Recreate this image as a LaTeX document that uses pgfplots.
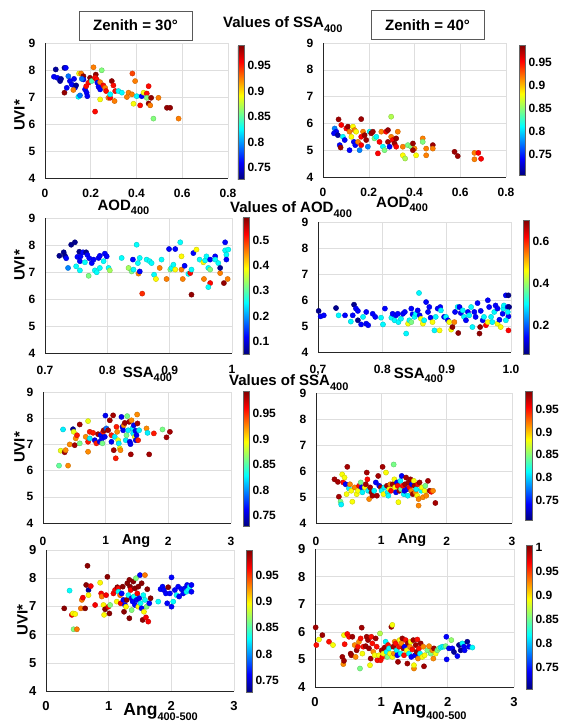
\documentclass[border=0pt]{standalone}
\usepackage{fontspec}
\setmainfont{Liberation Sans}
\usepackage{pgfplots}
\pgfplotsset{compat=1.18}

\newcommand{\fs}[1]{\bfseries\fontsize{#1}{#1}\selectfont}
\newcommand{\sub}[2][3.5pt]{\raisebox{-#1}{\fontsize{11}{11}\selectfont #2}}

\pgfplotsset{
  panel/.style={
    scale only axis,
    axis lines=left,
    axis line style={-, draw=black!85, line width=0.6pt},
    grid=major,
    grid style={draw=black!13, line width=0.5pt},
    tick style={draw=none},
    ymin=4, ymax=9, ytick={4,5,6,7,8,9},
    /pgf/number format/assume math mode=true,
    scaled ticks=false,
    ticklabel style={font=\fs{12}},
    yticklabel style={xshift=-4pt},
    label style={font=\fs{15}, inner sep=0pt},
    colormap/jet,
    colorbar,
    colorbar shift/.style={},
    colorbar style={
      at={(parent axis.north east)}, anchor=north west,
      width=6pt, axis lines=box, grid=none, xlabel={}, ylabel={},
      axis line style={draw=black!60, line width=0.4pt},
      tick style={draw=none},
      yticklabel style={font=\fs{12}},
      /pgf/number format/assume math mode=true,
      scaled ticks=false,
    },
  },
  dots/.style={scatter, only marks, mark=*, mark size=2.6pt, scatter src=explicit},
}

\begin{document}
\begin{tikzpicture}
\useasboundingbox (0,0) rectangle (562pt,-725pt);

% headers
\node[draw=black!65, line width=0.6pt, fill=white, minimum width=113pt, minimum height=29pt, font=\fs{15}]
  at (135.5pt,-25.5pt) {Zenith = 30°};
\node[draw=black!65, line width=0.6pt, fill=white, minimum width=113pt, minimum height=29pt, font=\fs{15}]
  at (427.5pt,-25pt) {Zenith = 40°};
\node[anchor=base west, inner sep=0pt, font=\fs{15}] at (223pt,-28pt) {Values of SSA\sub[5pt]{400}};
\node[anchor=base west, inner sep=0pt, font=\fs{15}] at (230pt,-212pt) {Values of AOD\sub[5pt]{400}};
\node[anchor=base west, inner sep=0pt, font=\fs{15}] at (229pt,-385pt) {Values of SSA\sub[5pt]{400}};

% ---- row 1, zenith 30, colour = SSA400
\begin{axis}[panel, at={(45pt,-43pt)}, anchor=north west, width=183pt, height=135pt,
  xmin=0, xmax=0.8, xtick={0,0.2,0.4,0.6,0.8},
  xticklabel style={yshift=-5pt},
  point meta min=0.728, point meta max=0.99,
  colorbar style={xshift=10pt, yshift=-2pt, height=134pt, ytick={0.75,0.8,0.85,0.9,0.95}},
  xlabel={AOD\sub{400}}, xlabel style={at={(axis description cs:0.429,0)}, anchor=north, yshift=-22pt},
  ylabel={UVI*}, ylabel style={at={(axis description cs:-0.109,0.463)}, anchor=south},
]
\addplot[dots] table[meta=c] {
x y c
0.047 8.02 0.735
0.039 7.75 0.76
0.054 7.71 0.76
0.066 7.59 0.735
0.070 7.67 0.735
0.085 8.08 0.735
0.091 8.08 0.76
0.085 7.16 0.985
0.102 7.77 0.79
0.109 7.59 0.76
0.095 7.34 0.76
0.117 7.46 0.76
0.127 7.67 0.76
0.131 7.34 0.76
0.136 7.43 0.735
0.124 7.26 0.925
0.146 7.01 0.825
0.153 7.06 0.79
0.149 7.87 0.89
0.158 7.87 0.925
0.168 7.77 0.985
0.168 7.65 0.76
0.161 7.67 0.79
0.175 7.28 0.76
0.182 7.16 0.76
0.185 7.03 0.76
0.190 7.53 0.955
0.180 7.40 0.955
0.197 7.71 0.985
0.204 7.59 0.845
0.212 8.10 0.925
0.222 7.83 0.985
0.219 7.71 0.955
0.226 7.65 0.955
0.229 7.53 0.76
0.234 7.38 0.76
0.241 7.28 0.76
0.241 6.91 0.89
0.248 7.99 0.86
0.219 6.46 0.955
0.241 7.55 0.925
0.255 7.43 0.955
0.263 7.34 0.925
0.267 7.22 0.955
0.277 6.97 0.925
0.285 6.97 0.955
0.292 7.59 0.985
0.299 7.43 0.955
0.307 7.22 0.955
0.304 6.85 0.925
0.285 7.10 0.825
0.321 7.22 0.825
0.336 7.16 0.825
0.358 7.00 0.925
0.365 7.16 0.925
0.382 7.87 0.94
0.394 7.59 0.925
0.380 7.10 0.925
0.387 6.75 0.89
0.401 7.03 0.825
0.416 6.69 0.955
0.423 7.03 0.76
0.431 7.16 0.89
0.445 7.13 0.955
0.453 7.40 0.955
0.445 6.97 0.86
0.464 6.97 0.985
0.453 6.76 0.985
0.460 6.69 0.925
0.496 6.97 0.925
0.474 6.20 0.86
0.533 6.60 0.985
0.547 6.60 0.985
0.584 6.20 0.925
};
\end{axis}

% ---- row 1, zenith 40
\begin{axis}[panel, at={(323pt,-43pt)}, anchor=north west, width=183pt, height=134pt,
  xmin=0, xmax=0.8, xtick={0,0.2,0.4,0.6,0.8},
  xticklabel style={yshift=-5pt},
  point meta min=0.705, point meta max=0.988,
  colorbar style={xshift=13pt, yshift=-2pt, height=130pt, ytick={0.75,0.8,0.85,0.9,0.95}},
  xlabel={AOD\sub{400}}, xlabel style={at={(axis description cs:0.432,0)}, anchor=north, yshift=-20pt},
]
\addplot[dots] table[meta=c] {
x y c
0.051 5.81 0.776
0.058 5.69 0.74
0.048 5.63 0.74
0.065 5.56 0.715
0.068 6.15 0.98
0.080 5.94 0.953
0.073 5.19 0.74
0.077 5.10 0.98
0.087 5.50 0.81
0.095 5.38 0.74
0.102 5.81 0.953
0.109 5.88 0.98
0.116 5.69 0.917
0.124 5.50 0.882
0.116 5.00 0.74
0.131 5.88 0.882
0.138 5.75 0.917
0.145 5.69 0.882
0.135 5.31 0.74
0.141 5.19 0.74
0.153 5.31 0.917
0.160 5.00 0.776
0.167 6.16 0.98
0.167 5.50 0.953
0.175 5.69 0.917
0.167 5.19 0.953
0.182 5.56 0.98
0.189 5.38 0.98
0.196 5.13 0.776
0.204 5.69 0.81
0.211 5.63 0.98
0.218 5.69 0.98
0.225 5.44 0.846
0.233 5.50 0.81
0.240 4.88 0.953
0.247 5.31 0.953
0.255 5.69 0.917
0.262 5.13 0.81
0.269 5.00 0.846
0.276 5.69 0.953
0.284 5.75 0.98
0.284 5.31 0.98
0.291 5.13 0.74
0.298 6.25 0.86
0.298 5.50 0.917
0.305 5.38 0.953
0.313 5.25 0.98
0.320 5.44 0.98
0.327 5.69 0.917
0.320 5.13 0.953
0.349 5.13 0.917
0.349 4.81 0.882
0.359 4.69 0.86
0.371 5.19 0.846
0.385 5.13 0.846
0.393 5.25 0.98
0.400 5.06 0.917
0.393 5.00 0.98
0.407 4.81 0.882
0.436 5.44 0.917
0.436 5.31 0.846
0.451 5.06 0.917
0.451 4.81 0.917
0.480 5.19 0.98
0.480 5.06 0.917
0.575 4.94 0.98
0.589 4.78 0.98
0.662 4.90 0.917
0.662 4.66 0.917
0.679 4.90 0.953
0.691 4.68 0.953
};
\end{axis}

% ---- row 2, zenith 30, colour = AOD400
\begin{axis}[panel, at={(45pt,-218pt)}, anchor=north west, width=187pt, height=135pt,
  xmin=0.7, xmax=1, xtick={0.7,0.8,0.9,1},
  xticklabel style={yshift=-7pt},
  point meta min=0.052, point meta max=0.59,
  colorbar style={xshift=11pt, yshift=1pt, height=137pt, ytick={0.1,0.2,0.3,0.4,0.5}},
  xlabel={SSA\sub{400}}, xlabel style={at={(axis description cs:0.548,0)}, anchor=north, yshift=-14pt},
  ylabel={UVI*}, ylabel style={at={(axis description cs:-0.107,0.648)}, anchor=south},
]
\addplot[dots] table[meta=c] {
x y c
0.723 7.60 0.06
0.730 7.73 0.06
0.732 7.60 0.06
0.734 7.51 0.12
0.737 7.15 0.19
0.742 8.01 0.06
0.748 8.10 0.06
0.750 7.21 0.255
0.752 7.56 0.12
0.756 7.40 0.12
0.755 7.75 0.06
0.757 7.58 0.12
0.756 7.06 0.255
0.761 7.73 0.12
0.764 7.36 0.255
0.766 7.73 0.06
0.770 6.86 0.32
0.768 7.63 0.12
0.771 7.51 0.12
0.775 7.33 0.12
0.778 7.46 0.12
0.780 7.06 0.255
0.783 6.99 0.255
0.786 7.52 0.12
0.788 7.60 0.12
0.788 7.15 0.255
0.794 7.40 0.255
0.796 7.68 0.12
0.799 7.58 0.12
0.802 7.15 0.255
0.804 7.06 0.34
0.823 7.52 0.255
0.834 7.15 0.34
0.839 7.02 0.32
0.841 7.46 0.12
0.842 7.09 0.255
0.847 8.01 0.255
0.849 7.33 0.255
0.850 6.94 0.455
0.852 7.02 0.12
0.852 7.52 0.255
0.856 6.20 0.50
0.863 7.46 0.255
0.868 7.40 0.255
0.871 7.33 0.255
0.875 6.90 0.255
0.878 6.74 0.39
0.884 7.15 0.455
0.887 7.46 0.255
0.895 6.74 0.455
0.901 7.09 0.32
0.899 7.85 0.12
0.903 7.15 0.255
0.906 7.27 0.255
0.909 7.85 0.12
0.909 7.09 0.39
0.917 8.10 0.255
0.919 7.58 0.39
0.919 7.09 0.455
0.921 6.74 0.455
0.924 7.23 0.12
0.930 6.93 0.255
0.933 6.96 0.52
0.935 7.09 0.255
0.938 7.70 0.12
0.935 6.16 0.58
0.943 7.83 0.39
0.948 7.46 0.255
0.954 7.36 0.39
0.955 6.74 0.455
0.957 7.43 0.255
0.959 7.58 0.255
0.962 7.15 0.255
0.965 7.09 0.32
0.965 6.59 0.52
0.962 6.44 0.255
0.965 7.46 0.12
0.973 7.58 0.12
0.973 7.46 0.255
0.978 7.33 0.255
0.981 6.96 0.455
0.987 6.59 0.58
0.989 7.80 0.255
0.989 8.10 0.12
0.991 7.64 0.255
0.991 7.46 0.12
0.993 6.74 0.455
0.981 7.15 0.06
0.994 7.83 0.255
};
\end{axis}

% ---- row 2, zenith 40
\begin{axis}[panel, at={(318pt,-222pt)}, anchor=north west, width=193pt, height=130pt,
  xmin=0.7, xmax=1, xtick={0.7,0.8,0.9,1}, xticklabels={{0,7},0.8,0.9,1.0},
  xticklabel style={yshift=-7pt},
  point meta min=0.066, point meta max=0.70,
  colorbar style={xshift=12pt, yshift=2pt, height=134pt, ytick={0.2,0.4,0.6}},
  xlabel={SSA\sub{400}}, xlabel style={at={(axis description cs:0.52,0)}, anchor=north, yshift=-16pt},
]
\addplot[dots] table[meta=c] {
x y c
0.701 5.58 0.075
0.704 5.37 0.145
0.709 5.41 0.145
0.728 5.69 0.075
0.732 5.41 0.30
0.742 5.41 0.145
0.751 5.17 0.30
0.754 5.41 0.145
0.756 5.82 0.075
0.759 5.67 0.145
0.762 5.58 0.145
0.762 5.22 0.075
0.767 5.06 0.145
0.770 5.35 0.30
0.775 5.54 0.145
0.775 5.09 0.145
0.778 5.03 0.145
0.785 5.47 0.145
0.789 5.35 0.145
0.798 5.32 0.30
0.801 5.06 0.30
0.804 5.67 0.145
0.814 5.32 0.30
0.816 5.47 0.145
0.819 5.22 0.30
0.821 5.41 0.145
0.824 5.47 0.145
0.825 5.15 0.30
0.829 5.28 0.30
0.832 5.47 0.145
0.835 5.54 0.145
0.837 4.71 0.30
0.840 5.09 0.46
0.842 5.22 0.30
0.845 5.15 0.38
0.845 5.67 0.145
0.847 5.45 0.145
0.850 5.35 0.30
0.852 5.47 0.30
0.855 5.60 0.145
0.857 6.27 0.30
0.858 5.41 0.145
0.860 5.28 0.46
0.863 5.09 0.46
0.865 5.22 0.30
0.868 5.92 0.145
0.871 5.54 0.145
0.873 5.73 0.145
0.875 5.32 0.145
0.878 5.15 0.46
0.881 4.83 0.30
0.883 5.35 0.30
0.886 5.67 0.145
0.889 4.83 0.46
0.890 5.73 0.145
0.891 5.60 0.30
0.896 5.35 0.145
0.899 5.35 0.30
0.902 5.22 0.145
0.904 5.15 0.46
0.907 4.86 0.46
0.909 4.96 0.69
0.912 5.15 0.54
0.913 5.54 0.145
0.917 5.73 0.30
0.918 4.73 0.69
0.920 5.73 0.145
0.922 5.50 0.145
0.925 5.60 0.30
0.927 5.35 0.30
0.930 5.22 0.145
0.933 5.54 0.145
0.935 5.41 0.30
0.938 5.73 0.30
0.940 4.96 0.30
0.943 5.54 0.145
0.945 5.35 0.145
0.948 5.88 0.145
0.951 4.71 0.69
0.952 4.96 0.69
0.953 5.58 0.145
0.956 5.22 0.145
0.958 5.35 0.30
0.961 5.03 0.62
0.964 5.99 0.145
0.964 5.15 0.46
0.966 5.73 0.145
0.969 5.35 0.30
0.971 5.15 0.30
0.974 5.54 0.30
0.976 5.79 0.145
0.979 5.67 0.145
0.979 5.09 0.46
0.982 5.24 0.145
0.984 4.96 0.46
0.987 5.47 0.145
0.988 5.67 0.30
0.989 5.79 0.30
0.992 6.18 0.145
0.996 6.18 0.075
0.995 5.73 0.145
0.996 5.37 0.145
0.997 5.73 0.075
0.996 4.83 0.62
0.992 5.22 0.30
0.995 5.54 0.30
};
\end{axis}

% ---- row 3, zenith 30, colour = SSA400
\begin{axis}[panel, at={(43pt,-392pt)}, anchor=north west, width=188pt, height=131pt,
  xmin=0, xmax=3, xtick={0,1,2,3},
  xticklabel style={yshift=-8pt},
  point meta min=0.73, point meta max=0.994,
  colorbar style={xshift=12pt, yshift=1pt, height=135pt, ytick={0.75,0.8,0.85,0.9,0.95}},
  xlabel={Ang}, xlabel style={font=\fs{14.5}, at={(axis description cs:0.495,0)}, anchor=north, yshift=-11pt},
  ylabel={UVI*}, ylabel style={at={(axis description cs:-0.096,0.576)}, anchor=south},
]
\addplot[dots] table[meta=c] {
x y c
0.256 6.19 0.855
0.282 6.76 0.89
0.320 7.57 0.825
0.346 6.70 0.985
0.362 6.78 0.925
0.400 6.19 0.925
0.426 7.00 0.925
0.479 7.58 0.735
0.490 7.48 0.89
0.506 6.97 0.985
0.522 7.23 0.925
0.543 7.35 0.955
0.586 7.76 0.985
0.586 7.04 0.86
0.682 7.29 0.925
0.719 7.89 0.89
0.719 6.72 0.925
0.719 7.10 0.955
0.746 7.48 0.955
0.746 7.23 0.825
0.799 7.44 0.955
0.826 7.16 0.76
0.852 7.04 0.955
0.879 7.39 0.985
0.906 7.10 0.76
0.922 7.35 0.76
0.943 7.23 0.76
0.948 7.04 0.86
0.959 7.48 0.955
0.970 7.54 0.985
0.986 7.29 0.76
0.996 8.10 0.76
1.012 7.61 0.79
1.039 7.54 0.985
1.066 7.92 0.985
1.092 7.10 0.76
1.092 7.35 0.955
1.119 8.11 0.985
1.129 6.78 0.985
1.145 7.29 0.825
1.161 6.47 0.955
1.172 7.67 0.955
1.183 7.48 0.925
1.199 7.16 0.89
1.209 7.04 0.825
1.225 6.85 0.89
1.236 6.78 0.925
1.252 8.05 0.76
1.268 7.67 0.76
1.279 7.54 0.76
1.289 7.73 0.925
1.305 7.82 0.985
1.321 7.16 0.825
1.332 7.35 0.86
1.343 8.08 0.86
1.359 7.54 0.825
1.375 7.86 0.985
1.385 7.10 0.76
1.396 7.01 0.76
1.401 6.62 0.985
1.412 7.92 0.925
1.428 7.61 0.825
1.438 7.42 0.825
1.449 7.73 0.76
1.465 7.29 0.89
1.476 7.52 0.76
1.481 7.16 0.76
1.492 7.35 0.76
1.502 8.14 0.925
1.508 7.80 0.985
1.518 7.16 0.955
1.534 7.54 0.825
1.652 7.61 0.925
1.668 7.44 0.825
1.694 6.62 0.985
1.769 7.42 0.955
1.907 7.57 0.86
1.971 7.27 0.985
2.025 7.48 0.985
};
\end{axis}

% ---- row 3, zenith 40
\begin{axis}[panel, at={(316pt,-393pt)}, anchor=north west, width=196pt, height=130pt,
  xmin=0, xmax=3, xtick={0,1,2,3},
  xticklabel style={yshift=-8pt},
  point meta min=0.706, point meta max=0.99,
  colorbar style={xshift=13pt, yshift=2pt, width=7pt, height=129pt, ytick={0.75,0.8,0.85,0.9,0.95}},
  xlabel={Ang}, xlabel style={font=\fs{14.5}, at={(axis description cs:0.49,0)}, anchor=north, yshift=-10pt},
]
\addplot[dots] table[meta=c] {
x y c
0.283 5.68 0.98
0.335 5.58 0.98
0.350 5.01 0.98
0.376 4.82 0.846
0.386 4.71 0.81
0.401 5.87 0.882
0.417 5.56 0.953
0.437 5.75 0.882
0.453 5.49 0.74
0.468 5.11 0.882
0.479 6.16 0.98
0.504 5.33 0.81
0.520 5.49 0.917
0.540 5.24 0.882
0.556 4.82 0.882
0.592 5.37 0.917
0.623 5.11 0.882
0.643 5.24 0.882
0.659 5.43 0.953
0.685 5.56 0.846
0.700 5.37 0.74
0.710 5.18 0.81
0.746 5.37 0.882
0.762 5.49 0.98
0.777 5.94 0.98
0.787 5.68 0.953
0.798 5.24 0.81
0.813 4.92 0.917
0.829 5.37 0.98
0.849 5.18 0.98
0.865 5.05 0.98
0.890 5.24 0.81
0.916 5.56 0.74
0.932 5.05 0.98
0.952 5.81 0.98
0.968 5.43 0.74
0.993 5.37 0.98
1.004 5.24 0.81
1.019 6.16 0.98
1.034 5.11 0.882
1.045 5.37 0.81
1.071 5.94 0.882
1.086 5.43 0.98
1.096 5.18 0.81
1.107 5.05 0.81
1.122 5.30 0.882
1.137 5.49 0.917
1.148 5.24 0.953
1.173 5.49 0.98
1.189 6.25 0.846
1.199 5.68 0.882
1.209 5.37 0.882
1.225 5.18 0.74
1.240 5.56 0.74
1.251 5.43 0.953
1.261 4.80 0.882
1.276 5.24 0.98
1.292 5.62 0.81
1.302 5.30 0.846
1.312 5.81 0.74
1.328 5.43 0.953
1.343 5.11 0.81
1.354 5.24 0.74
1.364 5.49 0.98
1.379 5.75 0.98
1.395 5.30 0.74
1.405 5.05 0.81
1.415 5.56 0.98
1.431 5.37 0.953
1.446 5.68 0.98
1.457 5.24 0.917
1.467 5.49 0.74
1.482 5.11 0.98
1.498 5.62 0.882
1.508 5.43 0.98
1.523 5.18 0.917
1.534 5.30 0.81
1.549 5.05 0.882
1.559 5.49 0.953
1.570 4.92 0.917
1.570 4.67 0.917
1.585 5.56 0.98
1.611 5.24 0.81
1.621 5.37 0.882
1.637 4.99 0.917
1.662 5.24 0.882
1.673 5.43 0.846
1.688 5.05 0.917
1.714 5.62 0.98
1.740 5.24 0.98
1.765 5.20 0.953
1.791 5.24 0.917
1.827 4.77 0.98
};
\end{axis}

% ---- row 4, zenith 30, colour = SSA400
\begin{axis}[panel, at={(46pt,-550pt)}, anchor=north west, width=188pt, height=141pt,
  xmin=0, xmax=3, xtick={0,1,2,3},
  ticklabel style={font=\fs{13}},
  xticklabel style={yshift=-5pt},
  point meta min=0.728, point meta max=0.998,
  colorbar style={xshift=12pt, yshift=0pt, height=142pt, ytick={0.75,0.8,0.85,0.9,0.95}},
  xlabel={Ang\sub[5pt]{400-500}}, xlabel style={font=\fs{17.5}, at={(axis description cs:0.61,0)}, anchor=north, yshift=-12pt},
  ylabel={UVI*}, ylabel style={at={(axis description cs:-0.096,0.504)}, anchor=south},
]
\addplot[dots] table[meta=c] {
x y c
0.291 6.93 0.995
0.376 7.56 0.83
0.413 6.70 0.966
0.429 6.75 0.898
0.440 6.19 0.864
0.493 6.19 0.932
0.466 6.73 0.898
0.556 6.93 0.932
0.572 7.23 0.932
0.588 7.31 0.966
0.625 6.93 0.995
0.641 7.76 0.995
0.662 8.44 0.995
0.678 7.58 0.735
0.678 7.40 0.898
0.715 7.72 0.966
0.784 7.05 0.966
0.864 7.84 0.898
0.880 7.46 0.966
0.890 7.35 0.932
0.917 7.05 0.898
0.927 6.70 0.898
0.943 6.90 0.995
0.959 7.40 0.966
0.980 8.05 0.995
0.996 6.99 0.966
1.012 6.75 0.995
1.023 7.05 0.864
1.076 7.46 0.966
1.102 7.58 0.966
1.129 7.17 0.898
1.139 7.68 0.995
1.155 7.64 0.966
1.155 7.52 0.83
1.182 7.40 0.932
1.192 7.11 0.966
1.208 7.46 0.762
1.224 7.70 0.995
1.235 7.23 0.762
1.245 6.81 0.995
1.261 7.05 0.762
1.277 6.99 0.898
1.288 7.23 0.995
1.298 7.82 0.995
1.314 7.40 0.83
1.330 6.58 0.995
1.330 7.94 0.995
1.341 7.70 0.995
1.351 7.58 0.966
1.367 7.29 0.762
1.367 6.87 0.864
1.383 7.17 0.762
1.394 7.88 0.995
1.404 7.35 0.83
1.420 7.64 0.995
1.420 7.05 0.762
1.436 8.00 0.864
1.447 7.23 0.762
1.457 7.46 0.966
1.473 7.70 0.995
1.473 6.99 0.898
1.489 7.29 0.762
1.500 8.11 0.762
1.510 7.11 0.83
1.526 6.93 0.762
1.526 7.82 0.995
1.542 6.52 0.995
1.553 7.40 0.83
1.563 6.81 0.898
1.579 8.11 0.932
1.579 7.23 0.83
1.595 6.61 0.966
1.606 6.99 0.864
1.616 7.61 0.995
1.632 6.46 0.966
1.648 7.11 0.762
1.669 7.29 0.995
1.791 7.17 0.83
1.828 7.61 0.762
1.860 7.70 0.762
1.881 7.58 0.762
1.913 7.46 0.762
1.934 7.11 0.762
1.950 7.68 0.995
2.003 8.03 0.762
1.977 7.46 0.762
2.003 6.99 0.762
2.030 7.17 0.83
2.056 7.58 0.762
2.083 7.40 0.83
2.109 7.70 0.762
2.125 7.35 0.762
2.162 7.61 0.762
2.189 7.46 0.762
2.215 7.64 0.762
2.242 7.52 0.83
2.252 7.76 0.762
2.268 7.58 0.83
2.295 7.70 0.83
2.321 7.76 0.762
2.321 7.52 0.762
};
\end{axis}

% ---- row 4, zenith 40
\begin{axis}[panel, at={(315pt,-549pt)}, anchor=north west, width=199pt, height=138pt,
  xmin=0, xmax=3, xtick={0,1,2,3},
  ticklabel style={font=\fs{13}},
  xticklabel style={yshift=-5pt},
  point meta min=0.705, point meta max=1.004,
  colorbar style={xshift=12pt, yshift=4pt, height=144pt, ytick={0.75,0.8,0.85,0.9,0.95,1}},
  xlabel={Ang\sub[5pt]{400-500}}, xlabel style={font=\fs{17.5}, at={(axis description cs:0.575,0)}, anchor=north, yshift=-15pt},
]
\addplot[dots] table[meta=c] {
x y c
0.010 6.16 0.995
0.020 5.52 0.963
0.060 5.72 0.89
0.111 5.88 0.995
0.211 5.64 0.963
0.271 5.52 0.89
0.412 5.09 0.995
0.427 4.83 0.926
0.437 5.88 0.89
0.437 4.95 0.995
0.447 5.55 0.963
0.487 5.92 0.963
0.513 5.82 0.963
0.538 5.21 0.995
0.548 5.15 0.995
0.563 5.82 0.995
0.598 5.52 0.926
0.613 5.09 0.926
0.628 5.33 0.995
0.648 5.46 0.963
0.663 5.64 0.926
0.678 4.67 0.853
0.688 5.76 0.963
0.704 6.15 0.995
0.714 5.21 0.89
0.729 5.46 0.963
0.764 5.48 0.995
0.779 5.82 0.995
0.799 5.70 0.995
0.814 5.40 0.995
0.829 4.79 0.89
0.839 5.03 0.995
0.849 5.82 0.963
0.864 5.58 0.963
0.879 5.27 0.926
0.899 5.15 0.89
0.915 5.76 0.995
0.930 5.46 0.963
0.940 4.97 0.963
0.965 5.15 0.89
0.980 5.94 0.87
0.990 4.97 0.963
1.005 5.33 0.995
1.015 5.09 0.963
1.030 5.21 0.89
1.050 5.43 0.995
1.065 5.64 0.816
1.080 5.27 0.816
1.090 5.09 0.853
1.101 5.52 0.963
1.116 5.40 0.816
1.131 5.21 0.89
1.151 6.18 0.995
1.166 5.09 0.89
1.166 6.25 0.89
1.181 5.46 0.995
1.191 5.21 0.926
1.201 5.64 0.926
1.216 5.58 0.963
1.231 5.33 0.816
1.241 5.15 0.742
1.251 4.91 0.995
1.266 5.46 0.963
1.276 5.70 0.89
1.291 5.21 0.816
1.302 5.58 0.926
1.317 5.76 0.995
1.332 5.40 0.995
1.342 5.15 0.963
1.352 5.46 0.742
1.367 5.70 0.963
1.382 5.33 0.89
1.392 4.85 0.995
1.402 5.58 0.995
1.417 5.21 0.816
1.432 5.46 0.926
1.442 5.64 0.89
1.452 5.09 0.742
1.467 5.36 0.963
1.482 5.70 0.995
1.492 4.67 0.926
1.492 4.79 0.89
1.508 5.15 0.742
1.518 5.52 0.995
1.533 5.27 0.995
1.543 5.72 0.963
1.553 5.03 0.926
1.568 5.40 0.963
1.583 5.21 0.816
1.593 5.58 0.995
1.618 5.09 0.89
1.633 5.46 0.926
1.643 4.75 0.995
1.653 5.15 0.89
1.693 5.33 0.853
1.719 5.48 0.926
1.744 5.21 0.853
1.769 5.33 0.926
1.784 5.03 0.926
1.794 5.40 0.995
1.819 5.21 0.89
1.844 5.33 0.853
1.869 5.40 0.853
1.894 5.43 0.816
1.920 5.46 0.816
1.945 5.46 0.816
1.970 5.48 0.853
1.980 5.82 0.742
1.985 5.00 0.742
2.020 5.40 0.742
2.055 5.70 0.86
2.070 5.40 0.742
2.095 5.27 0.712
2.146 5.12 0.742
2.171 5.52 0.712
2.196 5.33 0.712
2.221 5.58 0.816
2.246 5.46 0.742
2.256 5.33 0.742
2.296 5.64 0.712
2.322 5.46 0.742
2.372 5.43 0.816
};
\end{axis}
\end{tikzpicture}
\end{document}
